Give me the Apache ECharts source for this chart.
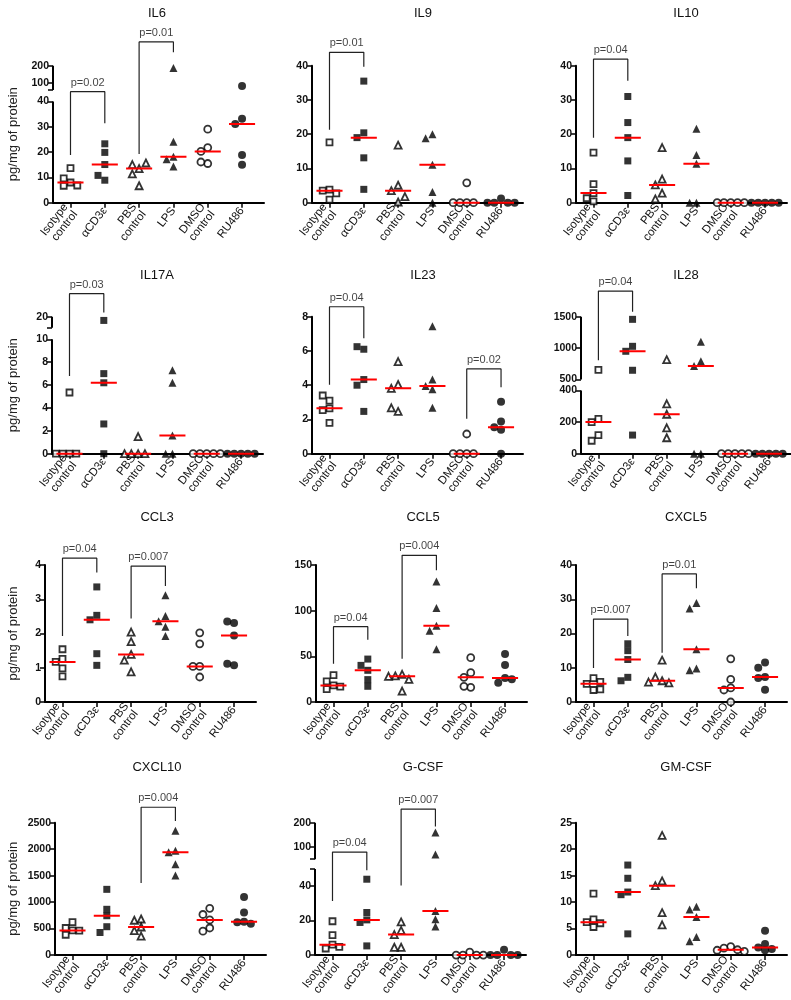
<!DOCTYPE html>
<html>
<head>
<meta charset="utf-8">
<script src="https://cdn.jsdelivr.net/npm/echarts@6.0.0/dist/echarts.min.js"></script>
<style>
html, body { margin: 0; background: #fff; }
#container { width: 791px; height: 1000px; }
</style>
</head>
<body>
<div id="container"></div>
<script>
// groups, in plotting order
var groups = ['Isotype\ncontrol', 'αCD3ε', 'PBS\ncontrol', 'LPS', 'DMSO\ncontrol', 'RU486'];

// values (pg/mg of protein) per group: Isotype, aCD3e, PBS, LPS, DMSO, RU486
var il6 = [[8.0, 13.7, 9.6, 6.7, 6.8], [23.3, 19.9, 15.1, 8.9, 10.8], [13.5, 15.1, 15.7, 11.4, 6.7],
           [186, 24.1, 18.2, 17.2, 14.3], [29.1, 21.8, 20.3, 15.5, 16.1], [83, 33.2, 31.1, 18.9, 15.0]];
var il9 = [[17.6, 3.8, 3.5, 0.9, 2.7], [35.5, 20.4, 19.0, 13.1, 3.9], [16.8, 5.1, 3.5, 0.2, 1.8],
           [20.0, 18.8, 11.1, 3.1, 0], [5.8, 0, 0, 0, 0], [1.2, 0, 0, 0, 0]];
var il10 = [[14.6, 5.4, 2.8, 0.4, 1.3], [31.0, 23.4, 19.0, 12.2, 2.1], [16.1, 6.9, 5.2, 2.8, 1.1],
            [21.6, 13.9, 11.4, 0, 0], [0, 0, 0, 0, 0], [0, 0, 0, 0, 0]];
var il17a = [[5.35, 0, 0, 0, 0], [16.6, 7.0, 6.2, 2.6, 0], [1.5, 0, 0, 0, 0],
             [7.3, 6.2, 1.6, 0, 0], [0, 0, 0, 0, 0], [0, 0, 0, 0, 0]];
var il23 = [[2.65, 3.1, 3.4, 2.55, 1.8], [6.1, 6.25, 4.33, 4.0, 2.47], [5.38, 4.04, 3.82, 2.47, 2.68],
            [7.44, 4.33, 3.96, 3.77, 2.68], [1.15, 0, 0, 0, 0], [3.03, 1.88, 1.55, 1.4, 0]];
var il28 = [[653, 221, 200, 118, 82], [1458, 1029, 950, 648, 118], [817, 316, 250, 164, 101],
            [1103, 791, 715, 0, 0], [0, 0, 0, 0, 0], [0, 0, 0, 0, 0]];
var ccl3 = [[1.54, 1.26, 1.17, 0.98, 0.75], [3.36, 2.53, 2.4, 1.41, 1.07], [2.04, 1.76, 1.39, 1.22, 0.88],
            [3.12, 2.51, 2.36, 2.2, 1.93], [2.02, 1.7, 1.04, 1.04, 0.73], [2.31, 2.35, 1.94, 1.07, 1.12]];
var ccl5 = [[29.5, 22.5, 18.2, 16.8, 14.0], [47, 40.1, 34.7, 24.5, 17.2], [30.3, 28.5, 24.8, 28.1, 12],
            [132, 103, 83.6, 78, 57.7], [48.5, 32.1, 27, 16.1, 17.2], [52.6, 40.5, 26.3, 21.2, 24.8]];
var cxcl5 = [[7.0, 5.3, 5.9, 3.5, 3.7], [17.0, 15.0, 12.4, 7.2, 6.2], [12.2, 6.2, 7.3, 5.6, 5.8],
             [28.9, 27.3, 15.4, 9.8, 9.3], [12.6, 6.6, 4.1, 3.5, 0], [11.5, 10.0, 7.3, 7.0, 3.6]];
var cxcl10 = [[620, 511, 465, 462, 383], [1241, 864, 742, 535, 426], [681, 657, 530, 462, 359],
              [2348, 1970, 1940, 1715, 1502], [882, 766, 663, 511, 450], [1095, 803, 627, 620, 590]];
var gcsf = [[19.6, 11.5, 6.0, 3.8, 4.7], [44, 24.7, 20.4, 18.9, 5.3], [19.2, 14.3, 11.9, 4.5, 4.5],
            [160, 69, 25.5, 20.8, 16.6], [1.7, 0, 0, 0, 0], [3.0, 0, 0, 0, 0]];
var gmcsf = [[11.6, 6.75, 6.2, 6.0, 5.3], [17.0, 14.5, 11.9, 11.4, 4.0], [22.6, 14.0, 13.1, 8.0, 5.7],
             [9.1, 8.6, 7.2, 3.4, 2.6], [1.6, 1.3, 1.0, 0.9, 0.7], [4.6, 2.1, 1.4, 1.15, 0.9]];

// significance: [group a, group b, label]
var il6Sig = [[0, 1, 'p=0.02'], [2, 3, 'p=0.01']];
var il9Sig = [[0, 1, 'p=0.01']];
var il10Sig = [[0, 1, 'p=0.04']];
var il17aSig = [[0, 1, 'p=0.03']];
var il23Sig = [[0, 1, 'p=0.04'], [4, 5, 'p=0.02']];
var il28Sig = [[0, 1, 'p=0.04']];
var ccl3Sig = [[0, 1, 'p=0.04'], [2, 3, 'p=0.007']];
var ccl5Sig = [[0, 1, 'p=0.04'], [2, 3, 'p=0.004']];
var cxcl5Sig = [[0, 1, 'p=0.007'], [2, 3, 'p=0.01']];
var cxcl10Sig = [[2, 3, 'p=0.004']];
var gcsfSig = [[0, 1, 'p=0.04'], [2, 3, 'p=0.007']];
var gmcsfSig = [];

// layout
var FONT = '"Liberation Sans", Arial, sans-serif';
var W = 211, H = 137, XMIN = -0.51, XMAX = 5.64;
var colTitleX = [152, 418, 681];
var rowTop = [65.7, 316.7, 565, 822.7];
var rowTitleTop = [2, 264, 506, 756];

// brk: [lower max, lower frac, upper min, upper frac]; legs: bracket [left end, top, right end]
var panels = [
  {title: 'IL6', vals: il6, sig: il6Sig, row: 0, col: 0, left: 53, max: 200, labels: [0, 10, 20, 30, 40, 100, 200], brk: [40, 0.738, 60, 0.823], legs: [[18.9, 57, 31.4], [19.3, 337, 277]]},
  {title: 'IL9', vals: il9, sig: il9Sig, row: 0, col: 1, left: 312, max: 40, step: 10, legs: [[21.3, 43.9, 39.7]]},
  {title: 'IL10', vals: il10, sig: il10Sig, row: 0, col: 2, left: 576, max: 40, step: 10, legs: [[19.0, 41.9, 35.6]]},
  {title: 'IL17A', vals: il17a, sig: il17aSig, row: 1, col: 0, left: 52, max: 20, labels: [0, 2, 4, 6, 8, 10, 20], brk: [10, 0.835, 10, 0.92], legs: [[6.8, 41, 23.8]]},
  {title: 'IL23', vals: il23, sig: il23Sig, row: 1, col: 1, left: 312, max: 8, step: 2, legs: [[4.02, 8.58, 6.74], [2.04, 4.95, 3.88]]},
  {title: 'IL28', vals: il28, sig: il28Sig, row: 1, col: 2, left: 581, max: 1500, labels: [0, 200, 400, 500, 1000, 1500], brk: [400, 0.461, 500, 0.541], legs: [[807, 1907, 1579]]},
  {title: 'CCL3', vals: ccl3, sig: ccl3Sig, row: 2, col: 0, left: 45, max: 4, step: 1, legs: [[1.93, 4.2, 3.78], [2.44, 3.97, 3.39]]},
  {title: 'CCL5', vals: ccl5, sig: ccl5Sig, row: 2, col: 1, left: 316, max: 150, step: 50, legs: [[42, 82.5, 68.2], [47.4, 160.6, 144.2]]},
  {title: 'CXCL5', vals: cxcl5, sig: cxcl5Sig, row: 2, col: 2, left: 576, max: 40, step: 10, legs: [[9.9, 24.2, 19.3], [14.4, 37.4, 33.2]]},
  {title: 'CXCL10', vals: cxcl10, sig: cxcl10Sig, row: 3, col: 0, left: 55, max: 2500, step: 500, legs: [[1362, 2792, 2530]]},
  {title: 'G-CSF', vals: gcsf, sig: gcsfSig, row: 3, col: 1, left: 315, max: 200, labels: [0, 20, 40, 100, 200], brk: [50, 0.651, 50, 0.724], legs: [[31.3, 79.5, 49.2], [40.4, 256, 184.6]]},
  {title: 'GM-CSF', vals: gmcsf, sig: gmcsfSig, row: 3, col: 2, left: 576, max: 25, step: 5, legs: []}
];

var shapes = ['rect', 'rect', 'triangle', 'triangle', 'circle', 'circle'];
var filled = [false, true, false, true, false, true];

// value -> axis position (piecewise for broken axes)
function toDisp(p) {
  if (!p.brk) return function (v) { return v; };
  var lo = p.brk[0], loF = p.brk[1], up = p.brk[2], upF = p.brk[3], mx = p.max;
  return function (v) {
    if (v <= lo) return v / lo * loF;
    if (v >= up) return upF + (v - up) / (mx - up) * (1 - upF);
    return loF + (v - lo) / (up - lo) * (upF - loF);
  };
}

function median(a) {
  var s = a.slice().sort(function (x, y) { return x - y; });
  var m = Math.floor(s.length / 2);
  return s.length % 2 ? s[m] : (s[m - 1] + s[m]) / 2;
}

// simple beeswarm: horizontal offsets so markers don't sit on top of each other
function swarm(disp, pxY, pxX) {
  var placed = [], out = [], gap = 6.5, step = 6.8;
  disp.forEach(function (d) {
    var y = d * pxY, off = 0;
    for (var k = 0; k < 15; k++) {
      off = (k % 2 ? -1 : 1) * Math.ceil(k / 2) * step / pxX;
      var ok = placed.every(function (q) {
        return Math.abs(q.y - y) >= gap || Math.abs(q.x - off) * pxX >= gap;
      });
      if (ok) break;
    }
    placed.push({x: off, y: y});
    out.push(off);
  });
  return out;
}

var dom = document.getElementById('container');
var myChart = echarts.init(dom);
var grids = [], xAxes = [], yAxes = [], series = [], titles = [];
var pxX = W / (XMAX - XMIN);

panels.forEach(function (p, i) {
  var f = toDisp(p);
  var dmax = p.brk ? 1 : p.max;
  var pxY = H / dmax;

  grids.push({left: p.left, top: rowTop[p.row], width: W, height: H});
  titles.push({
    text: p.title, left: colTitleX[p.col], top: rowTitleTop[p.row], textAlign: 'center',
    textStyle: {fontSize: 13, fontWeight: 'normal', color: '#111', fontFamily: FONT}
  });

  xAxes.push({
    gridIndex: i, type: 'value', min: XMIN, max: XMAX,
    splitLine: {show: false},
    axisLine: {onZero: false, lineStyle: {color: '#000', width: 2}},
    axisTick: {customValues: [0, 1, 2, 3, 4, 5], length: 5, lineStyle: {color: '#000', width: 1.5}},
    axisLabel: {
      customValues: [0, 1, 2, 3, 4, 5], rotate: 52, margin: 6,
      fontSize: 11.5, lineHeight: 12, color: '#111', fontFamily: FONT,
      formatter: function (v) { return groups[Math.round(v)] || ''; }
    }
  });

  var ya = {
    gridIndex: i, type: 'value', min: 0, max: dmax,
    splitLine: {show: false},
    axisLine: {show: !p.brk, onZero: false, lineStyle: {color: '#000', width: 2}},
    axisTick: {length: 5, lineStyle: {color: '#000', width: 1.5}},
    axisLabel: {fontSize: 10.5, fontWeight: 'bold', color: '#111', fontFamily: FONT, margin: 4,
                formatter: function (v) { return String(v); }}
  };
  if (p.brk) {
    ya.axisLabel.customValues = p.labels.map(f);
    ya.axisTick.customValues = p.labels.map(f).concat([p.brk[1], p.brk[3]]);
    ya.axisLabel.formatter = function (v) {
      for (var k = 0; k < p.labels.length; k++) {
        if (Math.abs(f(p.labels[k]) - v) < 1e-6) return String(p.labels[k]);
      }
      return '';
    };
  } else {
    ya.interval = p.step;
  }
  if (p.col === 0) {
    ya.name = 'pg/mg of protein';
    ya.nameLocation = 'middle';
    ya.nameGap = p.left - 20;
    ya.nameTextStyle = {fontSize: 13, color: '#222', fontFamily: FONT};
  }
  yAxes.push(ya);

  // points
  var medLine = [];
  p.vals.forEach(function (vals, g) {
    var disp = vals.map(f);
    var offs = swarm(disp, pxY, pxX);
    var sz = shapes[g] === 'rect' ? 7 : 8;
    series.push({
      type: 'scatter', xAxisIndex: i, yAxisIndex: i, clip: false, silent: true, z: 3,
      symbol: shapes[g], symbolSize: filled[g] ? sz : sz - 1,
      itemStyle: filled[g] ? {color: '#000'} : {color: '#fff', borderColor: '#000', borderWidth: 1.8},
      data: disp.map(function (d, j) { return [g + offs[j], d]; })
    });
    var m = f(median(vals));
    medLine.push([g - 0.38, m], [g + 0.38, m], [g, '-']);
  });

  // medians
  series.push({
    type: 'line', xAxisIndex: i, yAxisIndex: i, clip: false, silent: true, z: 5,
    symbol: 'none', connectNulls: false,
    lineStyle: {color: '#ff0000', width: 2},
    data: medLine
  });

  // significance brackets
  if (p.sig.length) {
    var br = [];
    p.sig.forEach(function (s, k) {
      var l = p.legs[k];
      br.push([s[0], f(l[0])], [s[0], f(l[1])], [s[1], f(l[1])], [s[1], f(l[2])], [s[0], '-']);
    });
    series.push({
      type: 'line', xAxisIndex: i, yAxisIndex: i, clip: false, silent: true, z: 2,
      symbol: 'none', connectNulls: false,
      lineStyle: {color: '#222', width: 1.2},
      data: br
    });
    series.push({
      type: 'scatter', xAxisIndex: i, yAxisIndex: i, clip: false, silent: true,
      symbolSize: 1, itemStyle: {color: 'rgba(0,0,0,0)'},
      label: {show: true, position: 'top', distance: 3, formatter: '{b}', fontSize: 11, color: '#111', fontFamily: FONT},
      data: p.sig.map(function (s, k) {
        return {name: s[2], value: [(s[0] + s[1]) / 2, f(p.legs[k][1])]};
      })
    });
  }

  // broken y axis line
  if (p.brk) {
    series.push({
      type: 'line', xAxisIndex: i, yAxisIndex: i, clip: false, silent: true, z: 4,
      symbol: 'none', connectNulls: false,
      lineStyle: {color: '#000', width: 2},
      data: [[XMIN, 0], [XMIN, p.brk[1]], [XMIN, '-'], [XMIN, p.brk[3]], [XMIN, 1]]
    });
  }
});

var option = {
  animation: false,
  backgroundColor: '#fff',
  title: titles,
  grid: grids,
  xAxis: xAxes,
  yAxis: yAxes,
  series: series
};
myChart.setOption(option, true);
</script>
</body>
</html>
